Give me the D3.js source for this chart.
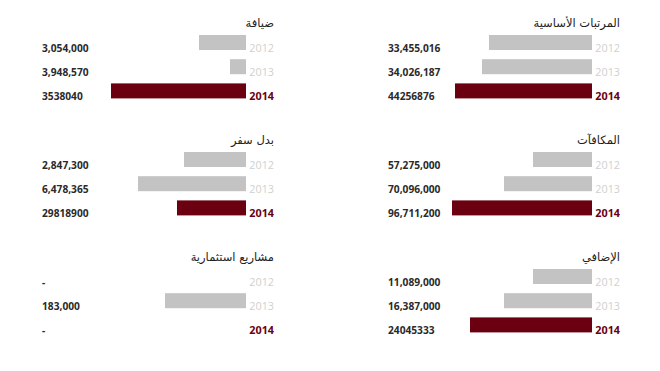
<!DOCTYPE html>
<html><head><meta charset="utf-8">
<script src="https://cdn.jsdelivr.net/npm/d3@7/dist/d3.min.js"></script>
<style>
html,body{margin:0;padding:0;background:#fff;}
svg{display:block;}
</style></head>
<body>
<script>
const years = ["2012","2013","2014"];
const titles = ["المرتبات الأساسية","ضيافة","المكافآت","بدل سفر","الإضافي","مشاريع استثمارية"];
// displayed value labels per panel
const labels1 = ["33,455,016","34,026,187","44256876"];
const labels2 = ["3,054,000","3,948,570","3538040"];
const labels3 = ["57,275,000","70,096,000","96,711,200"];
const labels4 = ["2,847,300","6,478,365","29818900"];
const labels5 = ["11,089,000","16,387,000","24045333"];
const labels6 = ["-","183,000","-"];
// bar lengths as drawn in the picture (relative units)
const bars1 = [103,110,137];
const bars2 = [47,16,135];
const bars3 = [59,88,140];
const bars4 = [62,108,69];
const bars5 = [59,88,122];
const bars6 = [0,81,0];

const panels = [
  {title:titles[0], labels:labels1, bars:bars1, col:1, row:0},
  {title:titles[1], labels:labels2, bars:bars2, col:0, row:0},
  {title:titles[2], labels:labels3, bars:bars3, col:1, row:1},
  {title:titles[3], labels:labels4, bars:bars4, col:0, row:1},
  {title:titles[4], labels:labels5, bars:bars5, col:1, row:2},
  {title:titles[5], labels:labels6, bars:bars6, col:0, row:2}
];

const W=660,H=371;
const svg=d3.select("body").append("svg").attr("width",W).attr("height",H);
const gray="#c3c3c3", red="#6b0011";

const colX=[0,346];      // panel offsets
const rowY=[0,117,234];
const barRight=246, yearRight=274, valueLeft=42;

const x=d3.scaleLinear().domain([0,150]).range([0,150]);
const y=d3.scaleBand().domain(years).range([35,98.4]).paddingInner(0.38);

panels.forEach(p=>{
  const g=svg.append("g").attr("transform",`translate(${colX[p.col]},${rowY[p.row]})`);
  g.append("text").attr("x",yearRight).attr("y",27)
    .attr("text-anchor","end")
    .style("font-family","'DejaVu Sans','Noto Sans',sans-serif").style("font-size","11.5px")
    .attr("fill","#222").text(p.title);
  years.forEach((yr,i)=>{
    const is14 = i===2;
    if(p.bars[i]>0){
      g.append("rect").attr("x",barRight-x(p.bars[i])).attr("y",y(yr))
        .attr("width",x(p.bars[i])).attr("height",y.bandwidth())
        .attr("fill",is14?red:gray);
    }
    g.append("text").attr("x",yearRight).attr("y",y(yr)+y.bandwidth()+2)
      .attr("text-anchor","end")
      .style("font-family","'Open Sans',sans-serif").style("font-size","10.8px")
      .style("font-weight",is14?"700":"400")
      .attr("fill",is14?red:"#d0d0d0").text(yr);
    g.append("text").attr("x",valueLeft).attr("y",y(yr)+y.bandwidth()+2)
      .attr("text-anchor","start")
      .style("font-family","'Open Sans',sans-serif").style("font-size","10.2px")
      .style("font-weight","700")
      .attr("fill","#2a2a2a").text(p.labels[i]);
  });
});
</script>
</body></html>
